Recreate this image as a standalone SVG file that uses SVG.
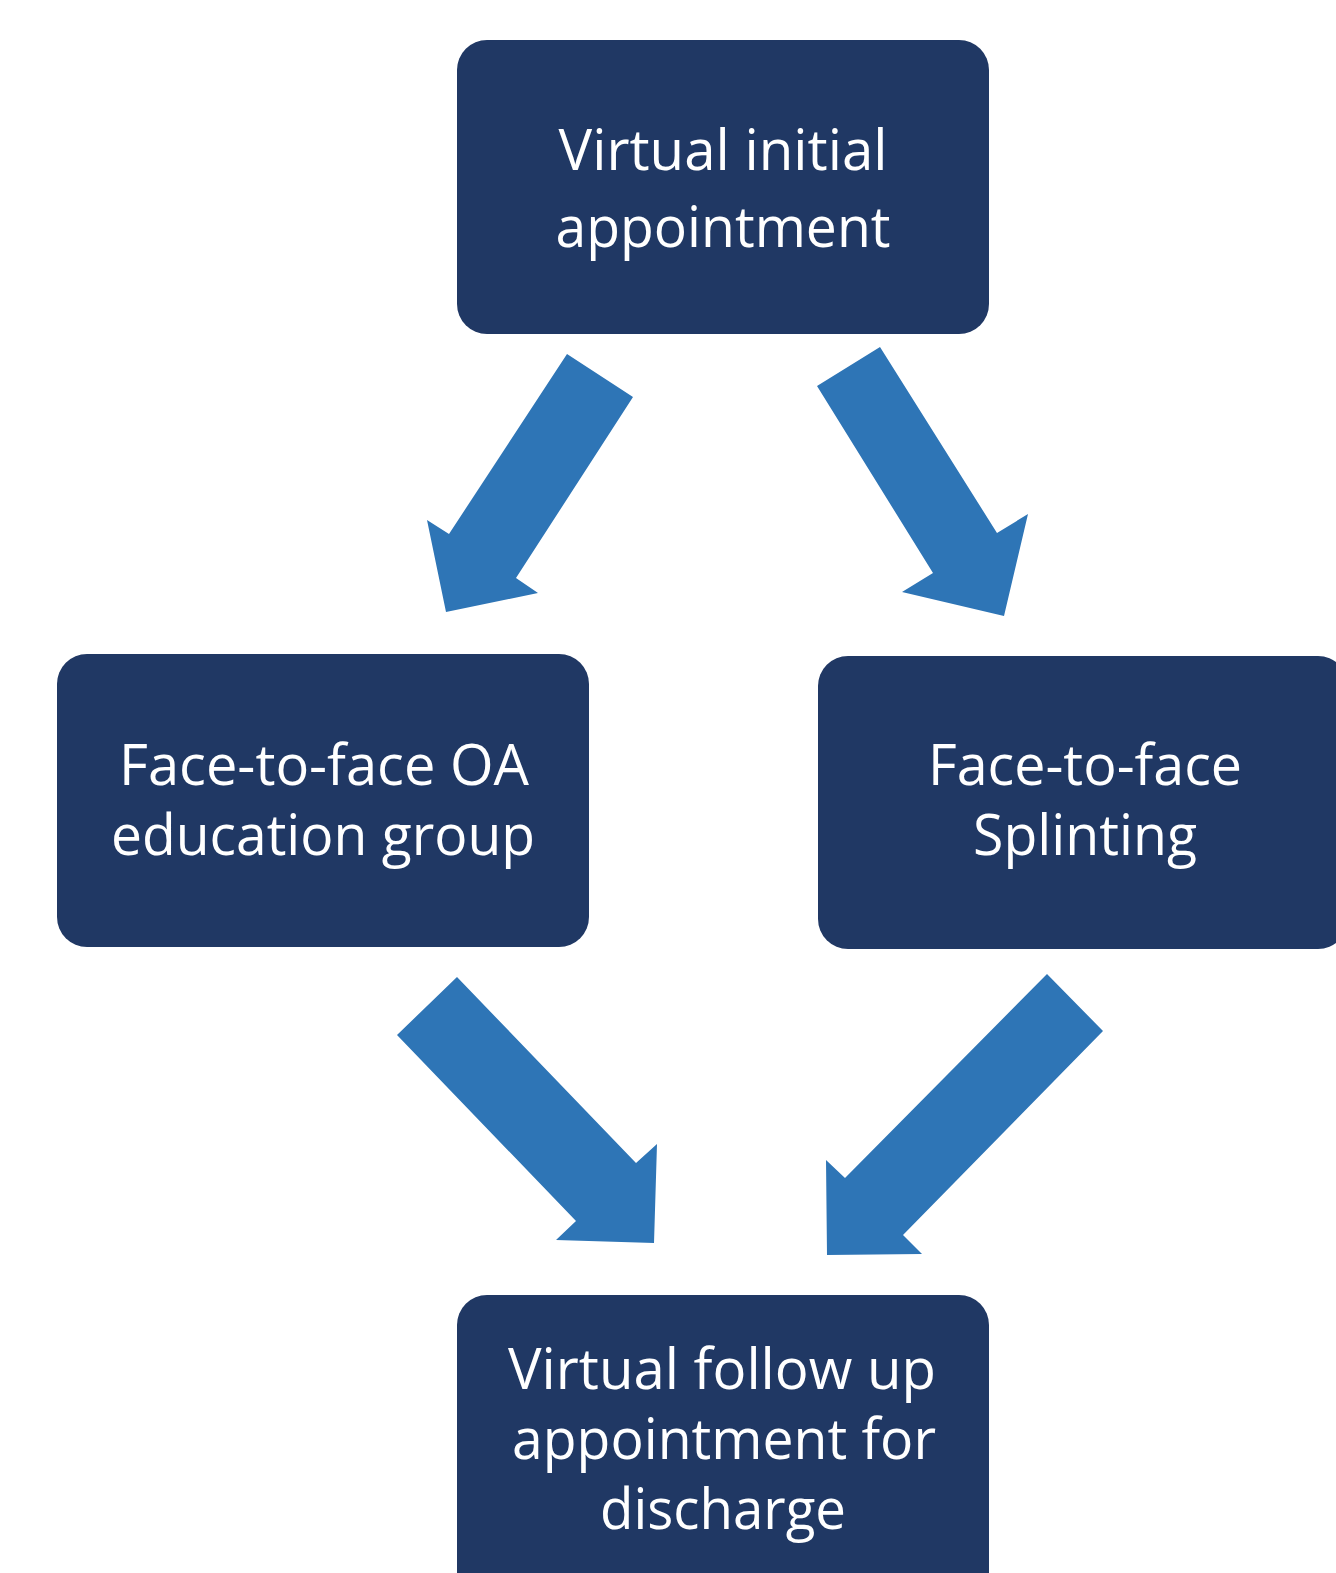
<svg xmlns="http://www.w3.org/2000/svg" width="1336" height="1573" viewBox="0 0 1336 1573">
<style>
.box{fill:#203864}
.arr{fill:#2E75B6}
.t{font-family:"Open Sans","Noto Sans","Liberation Sans",sans-serif;font-size:56px;fill:#ffffff;text-anchor:middle}
</style>
<rect x="0" y="0" width="1336" height="1573" fill="#ffffff"/>
<g id="connectors">
<polygon class="arr" points="567,354 633,397 516,578 538,593 446,612 427,520 449,534"/>
<polygon class="arr" points="880,347 817,386 933,573 902,592 1004,616 1028,514 997,533"/>
<polygon class="arr" points="457,977 397,1035 576,1221 556,1240 654,1243 657,1144 636,1163"/>
<polygon class="arr" points="1047,974 1103,1031 903,1235 922,1254 827,1255 826,1160 845,1178"/>
</g>
<g id="n1">
<rect class="box" x="457" y="40" width="532" height="294" rx="30"/>
<text class="t" x="723" y="170" textLength="329" lengthAdjust="spacingAndGlyphs">Virtual initial</text>
<text class="t" x="723" y="247" textLength="335" lengthAdjust="spacingAndGlyphs">appointment</text>
</g>
<g id="n2">
<rect class="box" x="57" y="654" width="532" height="293" rx="30"/>
<text class="t" x="324" y="785" textLength="410" lengthAdjust="spacingAndGlyphs">Face-to-face OA</text>
<text class="t" x="323" y="855" textLength="424" lengthAdjust="spacingAndGlyphs">education group</text>
</g>
<g id="n3">
<rect class="box" x="818" y="656" width="530" height="293" rx="30"/>
<text class="t" x="1085" y="785" textLength="314" lengthAdjust="spacingAndGlyphs">Face-to-face</text>
<text class="t" x="1085" y="855" textLength="224" lengthAdjust="spacingAndGlyphs">Splinting</text>
</g>
<g id="n4">
<rect class="box" x="457" y="1295" width="532" height="310" rx="30"/>
<text class="t" x="722" y="1389" textLength="428" lengthAdjust="spacingAndGlyphs">Virtual follow up</text>
<text class="t" x="724" y="1459" textLength="424" lengthAdjust="spacingAndGlyphs">appointment for</text>
<text class="t" x="723" y="1529" textLength="246" lengthAdjust="spacingAndGlyphs">discharge</text>
</g>
</svg>
